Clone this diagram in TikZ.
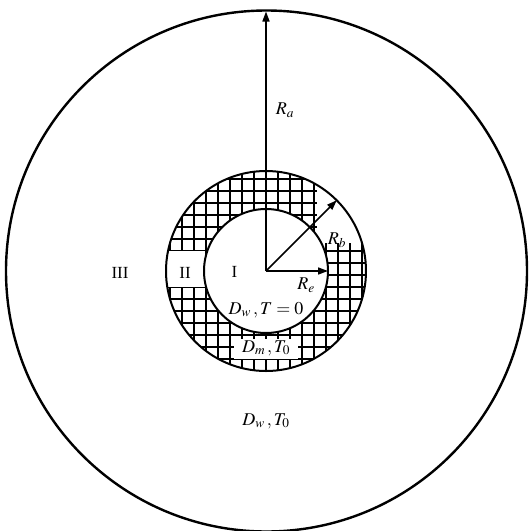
\documentclass[tikz,border=0pt]{standalone}
\usepackage{mathptmx}
\usepackage[no-math]{fontspec}
\setmainfont{Liberation Serif}
\usetikzlibrary{arrows.meta}
\tikzset{
  ringline/.style={line width=2pt},
  outerline/.style={line width=2.4pt},
  gridline/.style={line width=1.3pt},
  radius arrow/.style={line width=1.6pt,-{Triangle[length=10pt,width=7pt]}},
  lab/.style={inner sep=0pt,font=\fontsize{18}{21}\selectfont},
  roman/.style={inner sep=0pt,font=\fontsize{17}{20}\selectfont}
}
\begin{document}
\begin{tikzpicture}[x=1pt,y=-1pt]
\useasboundingbox (0,0) rectangle (529,531);
\coordinate (O) at (266,271);
\coordinate (Ra) at (266,11.5);
\coordinate (Rb) at (336.7,200.3);
\coordinate (Re) at (328,271);
% hatching in the ring
\begin{scope}[even odd rule]
  \clip (O) circle[radius=100] (O) circle[radius=62];
  \foreach \i in {-9,...,9} \draw[gridline] ({266+12*\i},160) -- ({266+12*\i},380);
  \foreach \j in {-10,...,9} \draw[gridline] (155,{275+12*\j}) -- (380,{275+12*\j});
  \fill[white] (317,160) rectangle (372,243);
  \fill[white] (164,251) rectangle (205,287);
  \fill[white] (234,339) rectangle (298,359);
\end{scope}
\draw[ringline] (O) circle[radius=100];
\draw[ringline] (O) circle[radius=62];
\draw[outerline] (266.5,271) circle[radius=260.5];
\draw[radius arrow] (O) -- (Ra);
\draw[radius arrow] (O) -- (Rb);
\draw[radius arrow] (O) -- (Re);
\node[lab] (la) at (285,110) {$R_a$};
\node[lab] (lb) at (337,240) {$R_b$};
\node[lab] (le) at (306,285) {$R_e$};
\node[roman] (r1) at (234.5,272) {I};
\node[roman] (r2) at (185,273) {II};
\node[roman] (r3) at (120,273) {III};
\node[lab] (dw0) at (266,310) {$D_w\,,T=0$};
\node[lab] (dm) at (266,348) {$D_m\,,T_0$};
\node[lab] (dw) at (266,421) {$D_w\,,T_0$};
\end{tikzpicture}
\end{document}
